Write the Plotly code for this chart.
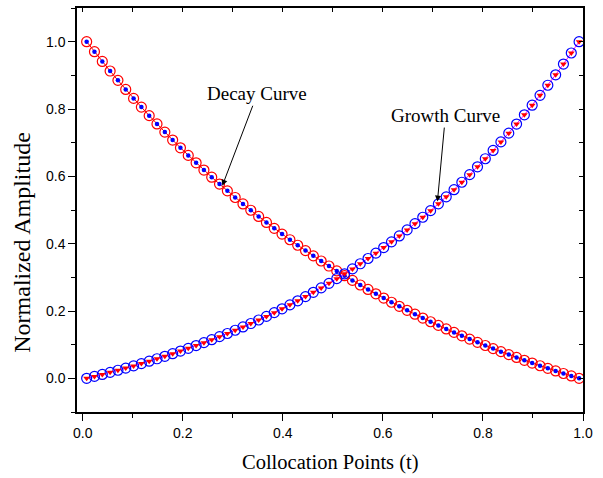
import plotly.graph_objects as go

t = [0.0078, 0.0234, 0.0391, 0.0547, 0.0703, 0.0859, 0.1016, 0.1172, 0.1328, 0.1484,
     0.1641, 0.1797, 0.1953, 0.2109, 0.2266, 0.2422, 0.2578, 0.2734, 0.2891, 0.3047,
     0.3203, 0.3359, 0.3516, 0.3672, 0.3828, 0.3984, 0.4141, 0.4297, 0.4453, 0.4609,
     0.4766, 0.4922, 0.5078, 0.5234, 0.5391, 0.5547, 0.5703, 0.5859, 0.6016, 0.6172,
     0.6328, 0.6484, 0.6641, 0.6797, 0.6953, 0.7109, 0.7266, 0.7422, 0.7578, 0.7734,
     0.7891, 0.8047, 0.8203, 0.8359, 0.8516, 0.8672, 0.8828, 0.8984, 0.9141, 0.9297,
     0.9453, 0.9609, 0.9766, 0.9922]

decay = [1.0000, 0.9703, 0.9412, 0.9128, 0.8851, 0.8580, 0.8315, 0.8056, 0.7803, 0.7556,
         0.7314, 0.7078, 0.6847, 0.6622, 0.6401, 0.6186, 0.5975, 0.5770, 0.5569, 0.5372,
         0.5180, 0.4993, 0.4809, 0.4630, 0.4455, 0.4284, 0.4117, 0.3953, 0.3794, 0.3638,
         0.3485, 0.3336, 0.3191, 0.3048, 0.2909, 0.2773, 0.2640, 0.2511, 0.2384, 0.2260,
         0.2139, 0.2020, 0.1905, 0.1791, 0.1681, 0.1573, 0.1467, 0.1364, 0.1264, 0.1165,
         0.1069, 0.0975, 0.0883, 0.0793, 0.0705, 0.0620, 0.0536, 0.0454, 0.0374, 0.0296,
         0.0219, 0.0144, 0.0071, 0.0000]

growth = [0.0000, 0.0057, 0.0116, 0.0177, 0.0240, 0.0304, 0.0370, 0.0438, 0.0509, 0.0581,
          0.0655, 0.0731, 0.0810, 0.0891, 0.0974, 0.1060, 0.1148, 0.1238, 0.1332, 0.1428,
          0.1526, 0.1628, 0.1733, 0.1840, 0.1951, 0.2065, 0.2182, 0.2303, 0.2427, 0.2555,
          0.2686, 0.2821, 0.2961, 0.3104, 0.3251, 0.3403, 0.3559, 0.3719, 0.3885, 0.4054,
          0.4229, 0.4409, 0.4595, 0.4785, 0.4981, 0.5183, 0.5391, 0.5604, 0.5824, 0.6050,
          0.6283, 0.6523, 0.6769, 0.7023, 0.7283, 0.7552, 0.7828, 0.8113, 0.8405, 0.8706,
          0.9016, 0.9335, 0.9663, 1.0000]

x_ticks = [0.0, 0.2, 0.4, 0.6, 0.8, 1.0]
y_ticks = [0.0, 0.2, 0.4, 0.6, 0.8, 1.0]

fig = go.Figure()

# Decay curve
fig.add_trace(go.Scatter(x=t, y=decay, mode="lines+markers",
                         line=dict(color="#ff0000", width=1),
                         marker=dict(symbol="circle-open", size=10, color="#ff0000",
                                     line=dict(width=1.2, color="#ff0000")),
                         showlegend=False))
fig.add_trace(go.Scatter(x=t, y=decay, mode="markers",
                         marker=dict(symbol="circle", size=4.5, color="#0000ff"),
                         showlegend=False))
# Growth curve
fig.add_trace(go.Scatter(x=t, y=growth, mode="lines+markers",
                         line=dict(color="#ff00ff", width=1),
                         marker=dict(symbol="circle-open", size=10, color="#0000ff",
                                     line=dict(width=1.2, color="#0000ff")),
                         showlegend=False))
fig.add_trace(go.Scatter(x=t, y=growth, mode="markers",
                         marker=dict(symbol="triangle-down", size=6, color="#ff0000"),
                         showlegend=False))
# invisible trace so the mirrored top/right axes get drawn
fig.add_trace(go.Scatter(x=[t[0]], y=[decay[0]], xaxis="x2", yaxis="y2", mode="markers",
                         marker=dict(opacity=0), hoverinfo="skip", showlegend=False))

xr = [-0.0115, 1.0]
yr = [-0.1, 1.1]
tickfont = dict(family="Liberation Sans, Arial", size=14, color="black")
serif = "Liberation Serif, Times New Roman"

fig.update_layout(
    width=603, height=478,
    margin=dict(l=77, r=20, t=6, b=66),
    paper_bgcolor="white", plot_bgcolor="white",
    xaxis=dict(range=xr, tickvals=x_ticks, ticktext=["%.1f" % v for v in x_ticks],
               ticks="outside", ticklen=7, tickwidth=1.2, tickcolor="black",
               showline=True, linecolor="black", linewidth=1.5, mirror=True,
               showgrid=False, zeroline=False, tickfont=tickfont,
               minor=dict(ticks="outside", ticklen=4, tickwidth=1.2, tickcolor="black",
                          dtick=0.1, tick0=0, showgrid=False)),
    yaxis=dict(range=yr, tickvals=y_ticks, ticktext=["%.1f" % v for v in y_ticks],
               ticks="outside", ticklen=7, tickwidth=1.2, tickcolor="black",
               showline=True, linecolor="black", linewidth=1.5, mirror=True,
               showgrid=False, zeroline=False, tickfont=tickfont,
               minor=dict(ticks="outside", ticklen=4, tickwidth=1.2, tickcolor="black",
                          dtick=0.1, tick0=0, showgrid=False)),
    xaxis2=dict(range=xr, overlaying="x", side="top", anchor="y2",
                tick0=0, dtick=0.1, ticks="inside", ticklen=4, tickwidth=1.2,
                tickcolor="black", showticklabels=False, showline=True,
                linecolor="black", linewidth=1.5, showgrid=False, zeroline=False),
    yaxis2=dict(range=yr, overlaying="y", side="right", anchor="x2",
                tick0=0, dtick=0.1, ticks="inside", ticklen=4, tickwidth=1.2,
                tickcolor="black", showticklabels=False, showline=True,
                linecolor="black", linewidth=1.5, showgrid=False, zeroline=False),
    annotations=[
        dict(text="Collocation Points (t)", xref="paper", yref="paper",
             x=0.5, y=-0.1256, xanchor="center", yanchor="middle", showarrow=False,
             font=dict(family=serif, size=20.5, color="black")),
        dict(text="Normalized Amplitude", xref="paper", yref="paper",
             x=-0.109, y=0.421, xanchor="center", yanchor="middle", showarrow=False,
             textangle=-90,
             font=dict(family=serif, size=24, color="black")),
        dict(text="Decay Curve", x=0.279, y=0.572, xref="x", yref="y",
             ax=35, ay=-92, showarrow=True, arrowhead=2, arrowsize=1.2, arrowwidth=1,
             arrowcolor="black",
             font=dict(family=serif, size=19, color="black")),
        dict(text="Growth Curve", x=0.709, y=0.525, xref="x", yref="y",
             ax=8, ay=-86, showarrow=True, arrowhead=2, arrowsize=1.2, arrowwidth=1,
             arrowcolor="black",
             font=dict(family=serif, size=19, color="black")),
    ],
)

fig.write_html("out.html", config={"displayModeBar": False},
               post_script="document.body.style.margin='0';")
